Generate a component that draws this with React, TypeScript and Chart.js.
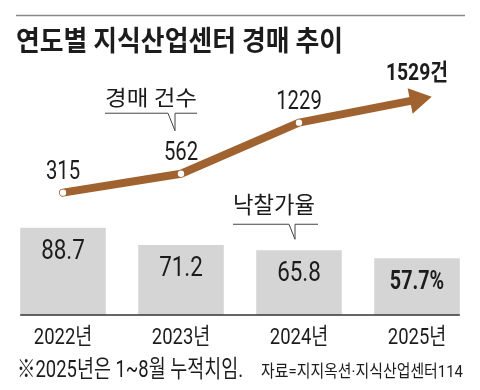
import React, { useEffect, useRef } from "react";
import { Chart, registerables } from "chart.js";
Chart.register(...registerables);

const years = ["2022년", "2023년", "2024년", "2025년"];
const auctionCounts = [315, 562, 1229, 1529];
const winningBidRates = [88.7, 71.2, 65.8, 57.7];
const countLabels = ["315", "562", "1229", "1529건"];
const rateLabels = ["88.7", "71.2", "65.8", "57.7%"];
const titleText = "연도별 지식산업센터 경매 추이";
const footnoteText = "※2025년은 1~8월 누적치임.";
const sourceText = "자료=지지옥션·지식산업센터114";
const lineSeriesName = "경매 건수";
const barSeriesName = "낙찰가율";

const BROWN = "#a0622e";
const BAR_GRAY = "#d5d5d5";
const INK = "#1c1c1c";
const FAMILY = '"Roboto", "Noto Sans CJK KR", sans-serif';
const KFAMILY = '"Noto Sans CJK KR", sans-serif';

function drawText(
  ctx: CanvasRenderingContext2D,
  s: string,
  x: number,
  baseline: number,
  font: string,
  align: "left" | "center" | "right",
  sx: number,
  fitWidth?: number
) {
  ctx.save();
  ctx.font = font;
  ctx.fillStyle = INK;
  ctx.textBaseline = "alphabetic";
  ctx.textAlign = "left";
  const raw = ctx.measureText(s).width;
  const scale = fitWidth ? fitWidth / raw : sx;
  const w = raw * scale;
  const left = align === "center" ? x - w / 2 : align === "right" ? x - w : x;
  ctx.translate(left, baseline);
  ctx.scale(scale, 1);
  ctx.fillText(s, 0, 0);
  ctx.restore();
}

const overlayPlugin = {
  id: "overlay",
  afterDatasetsDraw(chart: any) {
    const ctx: CanvasRenderingContext2D = chart.ctx;
    const barMeta = chart.getDatasetMeta(0);
    const lineMeta = chart.getDatasetMeta(1);
    const bars = barMeta.data;
    const pts = lineMeta.data;

    // arrow head at the last point
    const p3 = pts[pts.length - 2];
    const p4 = pts[pts.length - 1];
    const dx = p4.x - p3.x;
    const dy = p4.y - p3.y;
    const len = Math.hypot(dx, dy);
    const ux = dx / len;
    const uy = dy / len;
    const tipX = p4.x + ux * 15;
    const tipY = p4.y + uy * 15;
    const bx = p4.x - ux * 7;
    const by = p4.y - uy * 7;
    const hw = 13;
    ctx.save();
    ctx.fillStyle = BROWN;
    ctx.beginPath();
    ctx.moveTo(tipX, tipY);
    ctx.lineTo(bx - uy * hw, by + ux * hw);
    ctx.lineTo(bx + uy * hw, by - ux * hw);
    ctx.closePath();
    ctx.fill();
    ctx.restore();

    // baseline under bars
    const first = bars[0];
    const last = bars[bars.length - 1];
    const baseY = first.base;
    ctx.save();
    ctx.strokeStyle = "#333";
    ctx.lineWidth = 1.5;
    ctx.beginPath();
    ctx.moveTo(first.x - first.width / 2, baseY);
    ctx.lineTo(last.x + last.width / 2, baseY);
    ctx.stroke();
    ctx.restore();

    // bar value labels
    bars.forEach((b: any, i: number) => {
      const isLast = i === bars.length - 1;
      drawText(
        ctx,
        rateLabels[i],
        b.x,
        b.y + 31,
        isLast ? `bold 26px ${FAMILY}` : `28px ${FAMILY}`,
        "center",
        isLast ? 0.76 : 0.8
      );
    });

    // line value labels
    pts.forEach((p: any, i: number) => {
      const isLast = i === pts.length - 1;
      if (isLast) {
        drawText(ctx, countLabels[i], p.x, p.y - 20, `bold 23px ${FAMILY}`, "center", 0.84);
      } else {
        drawText(ctx, countLabels[i], p.x, p.y - 14, `26px ${FAMILY}`, "center", 0.78);
      }
    });

    // x category labels
    const xs = chart.scales.x;
    years.forEach((lab, i) => {
      drawText(ctx, lab, xs.getPixelForValue(i), baseY + 28.5, `22.5px ${FAMILY}`, "center", 0.82);
    });

    // callout for line series
    const p2 = pts[1];
    const n1x = p2.x - 6;
    const n1y = p2.y - 43;
    ctx.save();
    ctx.strokeStyle = "#444";
    ctx.lineWidth = 1;
    ctx.beginPath();
    ctx.moveTo(105, n1y - 17.5);
    ctx.lineTo(n1x - 7, n1y - 17.5);
    ctx.lineTo(n1x, n1y);
    ctx.lineTo(n1x, n1y - 17.5);
    ctx.lineTo(197, n1y - 17.5);
    ctx.stroke();
    ctx.restore();
    drawText(ctx, lineSeriesName, 105, n1y - 26, `21px ${KFAMILY}`, "left", 1, 92);

    // callout for bar series
    const b3 = bars[2];
    const n2x = b3.x - 4;
    const n2y = b3.y - 11;
    ctx.save();
    ctx.strokeStyle = "#444";
    ctx.lineWidth = 1;
    ctx.beginPath();
    ctx.moveTo(233, n2y - 15);
    ctx.lineTo(n2x - 6, n2y - 15);
    ctx.lineTo(n2x, n2y);
    ctx.lineTo(n2x, n2y - 15);
    ctx.lineTo(318, n2y - 15);
    ctx.stroke();
    ctx.restore();
    drawText(ctx, barSeriesName, 233, n2y - 26, `23px ${KFAMILY}`, "left", 1, 82);
  },
  beforeDraw(chart: any) {
    const ctx: CanvasRenderingContext2D = chart.ctx;
    ctx.save();
    ctx.fillStyle = "#fff";
    ctx.fillRect(0, 0, chart.width, chart.height);
    ctx.strokeStyle = "#8a8a8a";
    ctx.lineWidth = 1.5;
    ctx.beginPath();
    ctx.moveTo(16, 15.5);
    ctx.lineTo(465, 15.5);
    ctx.stroke();
    ctx.restore();
    drawText(ctx, titleText, 16, 51, `bold 28px ${KFAMILY}`, "left", 1, 327);
    drawText(ctx, footnoteText, 17, 377, `24px ${FAMILY}`, "left", 1, 226);
    drawText(ctx, sourceText, 261, 377, `17px ${FAMILY}`, "left", 1, 202);
  },
};

export default function App() {
  const ref = useRef<HTMLCanvasElement | null>(null);
  useEffect(() => {
    document.body.style.margin = "0";
    const canvas = ref.current;
    if (!canvas) return;
    const chart = new Chart(canvas, {
      type: "bar",
      data: {
        labels: years,
        datasets: [
          {
            type: "bar",
            data: winningBidRates,
            backgroundColor: BAR_GRAY,
            borderWidth: 0,
            barPercentage: 0.725,
            categoryPercentage: 1,
            yAxisID: "y",
            order: 1,
          } as any,
          {
            type: "line",
            data: auctionCounts,
            borderColor: BROWN,
            borderWidth: 8,
            borderCapStyle: "round",
            borderJoinStyle: "round",
            tension: 0,
            pointRadius: [3.2, 3.2, 3.2, 0],
            pointBackgroundColor: "#fff",
            pointBorderWidth: 0,
            yAxisID: "y2",
            order: 0,
            clip: false,
          } as any,
        ],
      },
      options: {
        responsive: false,
        maintainAspectRatio: false,
        animation: false,
        events: [],
        layout: { padding: { left: 0, right: 0, top: 70, bottom: 75 } },
        plugins: { legend: { display: false }, tooltip: { enabled: false } },
        scales: {
          x: { type: "category", display: false, offset: true },
          y: { display: false, min: 0, max: 249 },
          y2: { display: false, min: -1282, max: 1916 },
        },
      },
      plugins: [overlayPlugin],
    });
    return () => chart.destroy();
  }, []);
  return <canvas ref={ref} width={480} height={390} style={{ display: "block" }} />;
}
